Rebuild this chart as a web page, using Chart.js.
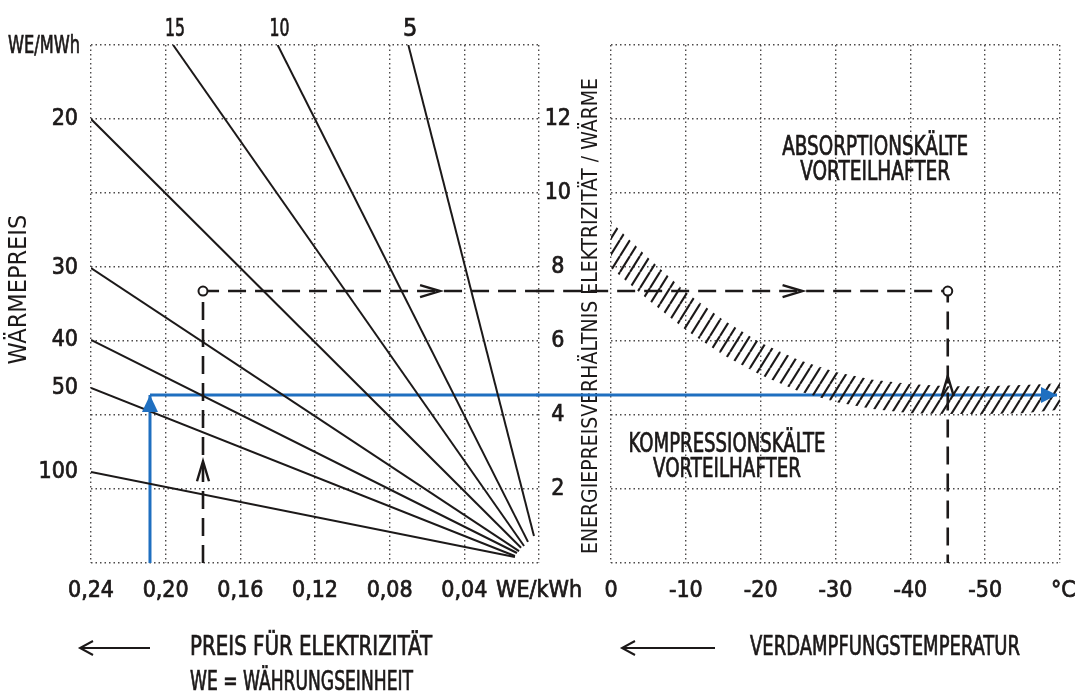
<!DOCTYPE html>
<html>
<head>
<meta charset="utf-8">
<script src="https://cdn.jsdelivr.net/npm/chart.js@4.4.0/dist/chart.umd.min.js"></script>
<style>
  body { margin: 0; background: #fff; }
  #wrap { position: relative; width: 1086px; height: 695px; }
  #wrap canvas { position: absolute; left: 0; top: 0; }
</style>
</head>
<body>
<div id="wrap">
  <canvas id="leftChart" width="1086" height="695"></canvas>
  <canvas id="rightChart" width="1086" height="695"></canvas>
</div>
<script>
// fan of heat-price lines (left panel), price for electricity in WE/kWh vs ratio
const heatPrices = [100, 50, 40, 30, 20, 15, 10, 5];
const fanStartPrice = [0.24, 0.24, 0.24, 0.24, 0.24, 0.196, 0.14, 0.07];
const fanStartRatio = [2.46, 4.73, 6.03, 7.97, 12.0, 14, 14, 14];
const fanEndPrice = [0.0129, 0.0129, 0.0118, 0.0107, 0.0096, 0.008, 0.0059, 0.0027];
const fanEndRatio = [0.16, 0.19, 0.27, 0.32, 0.41, 0.46, 0.57, 0.73];

// axis ticks
const heatTickRatios = [14, 12, 7.97, 6.03, 4.73, 2.46];
const heatTickLabels = ["WE/MWh", "20", "30", "40", "50", "100"];
const elecTicks = [0.24, 0.2, 0.16, 0.12, 0.08, 0.04, 0];
const tempTicks = [0, -10, -20, -30, -40, -50, -60];
const ratioTicks = [0, 2, 4, 6, 8, 10, 12, 14];

// hatched boundary band (right panel)
const bandTemps = [0, -5, -10, -15, -20, -25, -30, -35, -40, -45, -50, -55, -60];
const bandUpper = [9.22, 8.24, 7.32, 6.57, 5.95, 5.49, 5.16, 4.95, 4.84, 4.78, 4.78, 4.81, 4.86];
const bandLower = [7.97, 7.11, 6.30, 5.62, 5.08, 4.65, 4.35, 4.16, 4.05, 4.03, 4.03, 4.05, 4.14];

// worked example (dashed) and blue reading
const examplePrice = 0.18;
const exampleRatio = 7.35;
const exampleTemp = -45;
const bluePrice = 0.2084;
const blueRatio = 4.54;
const blueTempEnd = -59.6;
const joinTemp = 10; // where the right panel picks up the lines crossing the gap

const FONT = "'Liberation Sans Narrow', 'DejaVu Sans Condensed', 'Liberation Sans', sans-serif";
const INK = "#1c1919";
const GRID = "#4d4a4a";
const BLUE = "#1f6fc0";
const NBSP = "\u00a0";

Chart.defaults.font.family = FONT;
Chart.defaults.color = INK;

function hatchPattern() {
  const c = document.createElement("canvas");
  const w = 10, h = 16;
  c.width = w;
  c.height = h;
  const g = c.getContext("2d");
  g.strokeStyle = INK;
  g.lineWidth = 2.1;
  for (let k = -1; k <= 1; k++) {
    g.beginPath();
    g.moveTo(k * w, h);
    g.lineTo(k * w + w, 0);
    g.stroke();
  }
  return g.createPattern(c, "repeat");
}

function chevron(ctx, x, y, dir, len, half) {
  const d = { up: [0, -1], right: [1, 0], left: [-1, 0] }[dir];
  const nx = -d[1], ny = d[0];
  ctx.beginPath();
  ctx.moveTo(x - d[0] * len + nx * half, y - d[1] * len + ny * half);
  ctx.lineTo(x, y);
  ctx.lineTo(x - d[0] * len - nx * half, y - d[1] * len - ny * half);
  ctx.stroke();
}

function longArrow(ctx, xFrom, xTo, y) {
  ctx.beginPath();
  ctx.moveTo(xFrom, y);
  ctx.lineTo(xTo, y);
  ctx.stroke();
  chevron(ctx, xTo, y, "left", 13, 7);
}

// draws arrow heads, chevrons and free texts
const notesPlugin = {
  id: "notes",
  afterDatasetsDraw(chart, args, opts) {
    const ctx = chart.ctx;
    const xs = chart.scales.x, ys = chart.scales.y;
    ctx.save();

    chart.data.datasets.forEach((ds, i) => {
      if (!ds.arrowHead) return;
      const pts = chart.getDatasetMeta(i).data;
      const a = pts[pts.length - 2], b = pts[pts.length - 1];
      const ang = Math.atan2(b.y - a.y, b.x - a.x);
      ctx.save();
      ctx.translate(b.x, b.y);
      ctx.rotate(ang);
      ctx.fillStyle = ds.borderColor;
      ctx.beginPath();
      ctx.moveTo(0, 0);
      ctx.lineTo(-ds.arrowHead, 8);
      ctx.lineTo(-ds.arrowHead, -8);
      ctx.closePath();
      ctx.fill();
      ctx.restore();
    });

    ctx.strokeStyle = INK;
    ctx.lineWidth = 2.4;
    (opts.chevrons || []).forEach((c) => {
      chevron(ctx, xs.getPixelForValue(c.x), ys.getPixelForValue(c.y), c.dir, 20, 6);
    });

    ctx.lineWidth = 2;
    (opts.arrows || []).forEach((a) => longArrow(ctx, a.from, a.to, a.y));

    ctx.fillStyle = INK;
    ctx.lineWidth = 0.7;
    ctx.textBaseline = "middle";
    (opts.texts || []).forEach((t) => {
      const px = t.data ? xs.getPixelForValue(t.x) : t.x;
      const py = t.data ? ys.getPixelForValue(t.y) : t.y;
      ctx.font = `${t.size || 26}px ${FONT}`;
      ctx.textAlign = t.align || "center";
      ctx.fillText(t.text, px, py, t.width);
      ctx.strokeText(t.text, px, py, t.width);
    });
    ctx.restore();
  },
};

function noOverflow(s) {
  s.paddingLeft = 0;
  s.paddingRight = 0;
  s.paddingTop = 0;
  s.paddingBottom = 0;
}

function gridAxis(extra) {
  return Object.assign(
    {
      type: "linear",
      min: 0,
      max: 14,
      grid: { color: GRID, lineWidth: 1.4, drawTicks: false },
      border: { display: false, dash: [1.5, 3] },
    },
    extra
  );
}

const tickFont = { family: FONT, size: 23 };
const tickInk = { textStrokeColor: INK, textStrokeWidth: 0.7 };

// ---------- left panel ----------
const fanSets = heatPrices.map((p, i) => ({
  label: String(p),
  data: [
    { x: fanStartPrice[i], y: fanStartRatio[i] },
    { x: fanEndPrice[i], y: fanEndRatio[i] },
  ],
  borderColor: INK,
  borderWidth: 2,
  pointRadius: 0,
}));

const leftTopLabels = heatPrices
  .map((p, i) => ({ p, i }))
  .filter((o) => fanStartRatio[o.i] === 14)
  .map((o) => ({ text: String(o.p), x: fanStartPrice[o.i] - 0.001, y: 14.42, data: true, size: 25, width: 20 }));

new Chart(document.getElementById("leftChart"), {
  type: "line",
  data: {
    datasets: [
      ...fanSets,
      {
        data: [
          { x: examplePrice, y: 0 },
          { x: examplePrice, y: exampleRatio },
          { x: 0, y: exampleRatio },
        ],
        borderColor: INK,
        borderWidth: 2.6,
        borderDash: [18, 9],
        pointRadius: [0, 4.5, 0],
        pointBackgroundColor: "#fff",
        pointBorderColor: INK,
        pointBorderWidth: 2,
        clip: false,
      },
      {
        data: [
          { x: bluePrice, y: 0 },
          { x: bluePrice, y: blueRatio },
        ],
        borderColor: BLUE,
        borderWidth: 3,
        pointRadius: 0,
        arrowHead: 17,
      },
      {
        data: [
          { x: bluePrice, y: blueRatio },
          { x: 0, y: blueRatio },
        ],
        borderColor: BLUE,
        borderWidth: 3,
        pointRadius: 0,
        clip: false,
      },
    ],
  },
  options: {
    responsive: false,
    devicePixelRatio: 1,
    animation: false,
    layout: { padding: { left: 0, top: 45, right: 1086 - 539, bottom: 695 - 563 - 52 } },
    plugins: {
      legend: { display: false },
      tooltip: { enabled: false },
      notes: {
        chevrons: [
          { x: examplePrice, y: 2.75, dir: "up" },
          { x: 0.053, y: exampleRatio, dir: "right" },
        ],
        arrows: [{ from: 150, to: 80, y: 648 }],
        texts: [
          ...leftTopLabels,
          { text: heatTickLabels[0], x: 80, y: 47, align: "right", size: 24, width: 72 },
          { text: "PREIS FÜR ELEKTRIZITÄT", x: 190, y: 648, align: "left", width: 242 },
          { text: "WE = WÄHRUNGSEINHEIT", x: 190, y: 683, align: "left", width: 223 },
        ],
      },
    },
    scales: {
      x: {
        type: "linear",
        reverse: true,
        min: 0,
        max: 0.24,
        afterBuildTicks: (s) => { s.ticks = elecTicks.map((v) => ({ value: v })); },
        afterFit: (s) => { s.height = 52; noOverflow(s); },
        ticks: {
          font: tickFont,
          ...tickInk,
          padding: 14,
          maxRotation: 0,
          autoSkip: false,
          callback: (v) => (v === 0 ? "WE/kWh" : v.toFixed(2).replace(".", ",")),
        },
        grid: { color: GRID, lineWidth: 1.4, drawTicks: false },
        border: { display: false, dash: [1.5, 3] },
      },
      y: gridAxis({
        position: "left",
        weight: 0,
        afterBuildTicks: (s) => { s.ticks = ratioTicks.map((v) => ({ value: v })); },
        afterFit: (s) => { s.width = 0; noOverflow(s); },
        ticks: { display: false },
      }),
      yl: {
        type: "linear",
        position: "left",
        weight: 1,
        min: 0,
        max: 14,
        afterBuildTicks: (s) => { s.ticks = heatTickRatios.map((v) => ({ value: v })); },
        afterFit: (s) => { s.width = 91; noOverflow(s); },
        grid: { display: false, drawTicks: false },
        border: { display: false },
        ticks: {
          font: tickFont,
          ...tickInk,
          padding: 13,
          autoSkip: false,
          callback: (v, i) => (i === 0 ? "" : heatTickLabels[i]),
        },
        title: {
          display: true,
          text: NBSP.repeat(4) + "WÄRMEPREIS",
          font: { family: FONT, size: 25 },
          padding: { top: 4, bottom: 4 },
        },
      },
    },
  },
  plugins: [notesPlugin],
});

// ---------- right panel ----------
new Chart(document.getElementById("rightChart"), {
  type: "line",
  data: {
    datasets: [
      {
        data: bandTemps.map((t, i) => ({ x: t, y: bandUpper[i] })),
        borderWidth: 0,
        pointRadius: 0,
        fill: "+1",
        backgroundColor: hatchPattern(),
      },
      {
        data: bandTemps.map((t, i) => ({ x: t, y: bandLower[i] })),
        borderWidth: 0,
        pointRadius: 0,
      },
      {
        data: [
          { x: joinTemp, y: exampleRatio },
          { x: exampleTemp, y: exampleRatio },
          { x: exampleTemp, y: 0 },
        ],
        borderColor: INK,
        borderWidth: 2.6,
        borderDash: [18, 9],
        pointRadius: [0, 4.5, 0],
        pointBackgroundColor: "#fff",
        pointBorderColor: INK,
        pointBorderWidth: 2,
        clip: false,
      },
      {
        data: [
          { x: joinTemp, y: blueRatio },
          { x: blueTempEnd, y: blueRatio },
        ],
        borderColor: BLUE,
        borderWidth: 3,
        pointRadius: 0,
        arrowHead: 16,
        clip: false,
      },
    ],
  },
  options: {
    responsive: false,
    devicePixelRatio: 1,
    animation: false,
    layout: { padding: { left: 0, top: 45, right: 1086 - 1060, bottom: 695 - 563 - 52 } },
    plugins: {
      legend: { display: false },
      tooltip: { enabled: false },
      notes: {
        chevrons: [
          { x: -25.6, y: exampleRatio, dir: "right" },
          { x: exampleTemp, y: 5.05, dir: "up" },
        ],
        arrows: [{ from: 715, to: 622, y: 648 }],
        texts: [
          { text: "ABSORPTIONSKÄLTE", x: -35.3, y: 11.2, data: true, width: 186 },
          { text: "VORTEILHAFTER", x: -35.3, y: 10.54, data: true, width: 150 },
          { text: "KOMPRESSIONSKÄLTE", x: -15.5, y: 3.19, data: true, width: 197 },
          { text: "VORTEILHAFTER", x: -15.5, y: 2.51, data: true, width: 148 },
          { text: "VERDAMPFUNGSTEMPERATUR", x: 750, y: 648, align: "left", width: 270 },
        ],
      },
    },
    scales: {
      x: {
        type: "linear",
        reverse: true,
        min: -60,
        max: 0,
        afterBuildTicks: (s) => { s.ticks = tempTicks.map((v) => ({ value: v })); },
        afterFit: (s) => { s.height = 52; noOverflow(s); },
        ticks: {
          font: tickFont,
          ...tickInk,
          padding: 14,
          maxRotation: 0,
          autoSkip: false,
          callback: (v) => (v === -60 ? NBSP + "°C" : String(v)),
        },
        grid: { color: GRID, lineWidth: 1.4, drawTicks: false },
        border: { display: false, dash: [1.5, 3] },
      },
      y: gridAxis({
        position: "left",
        weight: 1,
        afterBuildTicks: (s) => { s.ticks = ratioTicks.map((v) => ({ value: v })); },
        afterFit: (s) => { s.width = 575; noOverflow(s); },
        ticks: {
          font: tickFont,
          ...tickInk,
          padding: 4,
          crossAlign: "center",
          callback: (v) => (v === 0 || v === 14 ? "" : String(v)),
        },
      }),
      yt: {
        type: "linear",
        position: "left",
        weight: 0,
        min: 0,
        max: 14,
        afterFit: (s) => { s.width = 36; noOverflow(s); },
        grid: { display: false },
        border: { display: false },
        ticks: { display: false },
        title: {
          display: true,
          text: "ENERGIEPREISVERHÄLTNIS ELEKTRIZITÄT / WÄRME" + NBSP.repeat(4),
          font: { family: FONT, size: 21 },
          padding: { top: 4, bottom: 4 },
        },
      },
    },
  },
  plugins: [notesPlugin],
});
</script>
</body>
</html>
